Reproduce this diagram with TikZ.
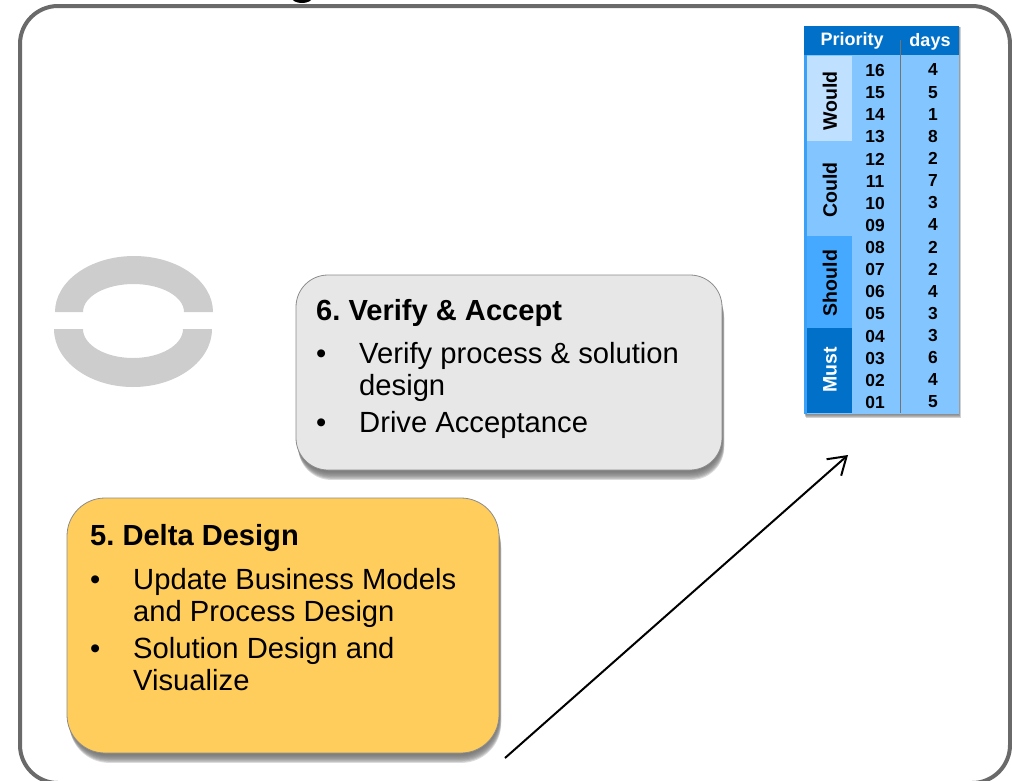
\documentclass[tikz,border=0pt]{standalone}
\usepackage{fontspec}
\setmainfont{Liberation Sans}
\frenchspacing
\usetikzlibrary{arrows.meta}
\definecolor{framegray}{HTML}{6A6A6A}
\definecolor{boxgray}{HTML}{E7E7E7}
\definecolor{boxyellow}{HTML}{FFCD5B}
\definecolor{ringgray}{HTML}{CDCDCD}
\definecolor{tabhead}{HTML}{0070C8}
\definecolor{tabbody}{HTML}{82C5FF}
\definecolor{tablight}{HTML}{BFE0FF}
\definecolor{tabmid}{HTML}{45AAFF}
\tikzset{
  x=1pt,y=-1pt,
  card/.style={rectangle,inner sep=0pt,outer sep=0pt,anchor=north west,draw=black!45,line width=.8pt},
  cardtitle/.style={anchor=base west,inner sep=0pt,font=\fontsize{29.1}{32}\selectfont\bfseries},
  cardtext/.style={anchor=north west,inner sep=0pt,align=left,font=\fontsize{29.2}{32}\selectfont},
  bullet/.style={anchor=base west,inner sep=0pt,font=\fontsize{29.2}{32}\selectfont},
  numcell/.style={inner sep=0pt,font=\fontsize{17.4}{18}\selectfont\bfseries},
  headcell/.style={inner sep=0pt,text=white,font=\fontsize{18}{20}\selectfont\bfseries},
  band/.style={inner sep=0pt,rotate=90,font=\fontsize{19.5}{20}\selectfont\bfseries},
}
\begin{document}
\begin{tikzpicture}
\useasboundingbox (0,0) rectangle (1012,780);
\clip (0,0) rectangle (1012,780);
% cropped descender at the top edge
\fill[black] (302,-2) ellipse (10 and 5);
% outer frame
\draw[framegray,line width=4pt,rounded corners=38pt] (20,6) rectangle (1010,783);
% ring
\fill[ringgray] (55,312) arc[start angle=180,end angle=360,x radius=79,y radius=56] -- (184,312) arc[start angle=360,end angle=180,x radius=50.5,y radius=28] -- cycle;
\fill[ringgray] (54,329) arc[start angle=180,end angle=0,x radius=79,y radius=58] -- (183,329) arc[start angle=0,end angle=180,x radius=50,y radius=29] -- cycle;
% table
\foreach \i/\o in {1/.06,2/.09,3/.12,4/.15,5/.18}
  \fill[black,opacity=\o] ({804+\i*.3},{27}) rectangle ({958+\i*.5},{413+\i});
\fill[tabbody] (804,26) rectangle (959,414);
\fill[tabhead] (804,26) rectangle (959,55);
\fill[tabmid!85!tabhead] (804,55) rectangle (807,414);
\fill[tablight] (807,56) rectangle (852,141);
\fill[tabmid] (807,236) rectangle (852,328);
\fill[tabhead] (807,328) rectangle (852,413);
\node[band] (would) at (830,101) {Would};
\node[band] (could) at (830,190) {Could};
\node[band] (should) at (830,283) {Should};
\node[band,text=white] (must) at (830,370) {Must};
\draw[black!55,line width=1pt] (900,40) -- (900,413);
\node[headcell] (hprio) at (852,41) {Priority};
\node[headcell] (hdays) at (930,42) {days};
\foreach \n/\d [count=\k from 0] in {16/4,15/5,14/1,13/8,12/2,11/7,10/3,09/4,08/2,07/2,06/4,05/3,04/3,03/6,02/4,01/5}{
  \node[numcell] (p\n) at (875,{70.5+22.13*\k}) {\n};
  \node[numcell] (d\n) at (933,{70+22.13*\k}) {\d};
}
% gray card
\foreach \i/\o in {1/.03,2/.04,3/.05,4/.06,5/.07,6/.08,7/.10,8/.12,9/.14}
  \fill[black,opacity=\o,rounded corners=33pt] ({296+\i*.25},{275+\i*1.1}) rectangle ({722+\i*.25},{470+\i*1.1});
\node[card,fill=boxgray,minimum width=426pt,minimum height=195pt,rounded corners=32pt] (verify) at (296,275) {};
\node[cardtitle] (vt) at (316,320) {6. Verify \& Accept};
\node[bullet] (vb1) at (316,363) {•};
\node[cardtext] (v1) at (359,342) {Verify process \& solution\\design};
\node[bullet] (vb2) at (316,432) {•};
\node[cardtext] (v2) at (359,411) {Drive Acceptance};
% yellow card
\foreach \i/\o in {1/.03,2/.04,3/.05,4/.06,5/.07,6/.08,7/.10,8/.12,9/.14}
  \fill[black,opacity=\o,rounded corners=40pt] ({67+\i*.25},{498+\i*1.1}) rectangle ({499+\i*.25},{753+\i*1.1});
\node[card,fill=boxyellow,minimum width=432pt,minimum height=255pt,rounded corners=38pt] (delta) at (67,498) {};
\node[cardtitle] (dt) at (90,545) {5. Delta Design};
\node[bullet] (db1) at (90,589) {•};
\node[cardtext] (d1) at (133,568) {Update Business Models\\and Process Design};
\node[bullet] (db2) at (90,658) {•};
\node[cardtext] (d2) at (133,637) {Solution Design and\\Visualize};
% arrow
\coordinate (astart) at (505,758);
\coordinate (aend) at (848,455);
\draw[black,line width=2pt,-{Straight Barb[length=17pt,width=22pt,line width=2pt]}] (astart) -- (aend);
\end{tikzpicture}
\end{document}
